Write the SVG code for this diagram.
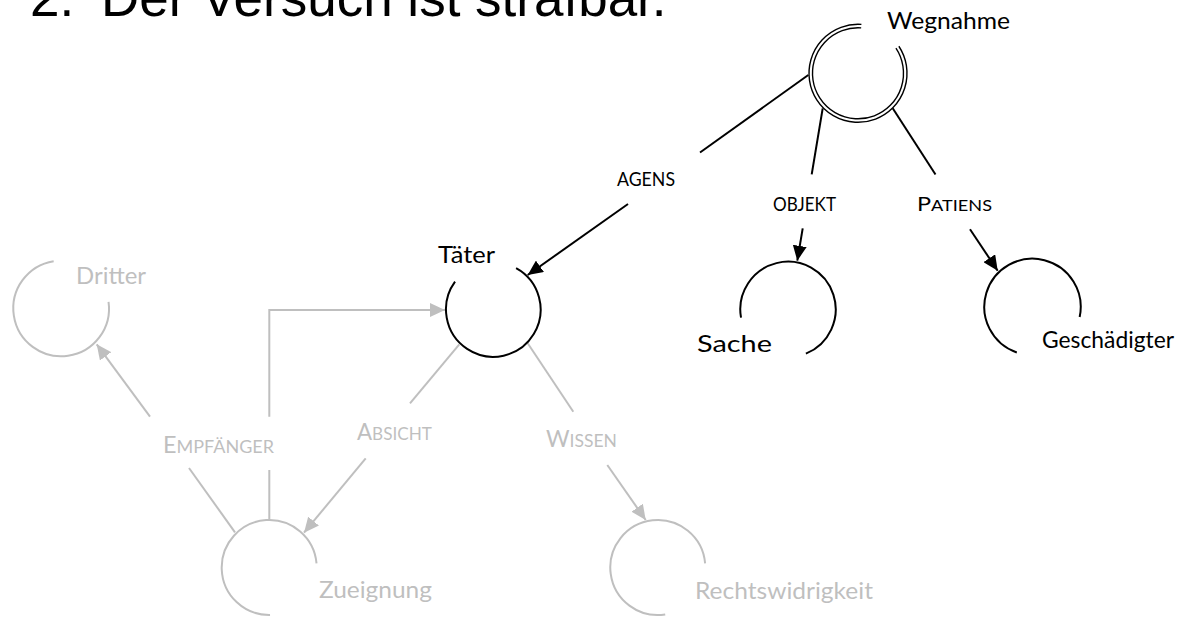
<svg xmlns="http://www.w3.org/2000/svg" width="1186" height="617" viewBox="0 0 1186 617">
<defs>
<style>
.bg{fill:#ffffff}
.arcB{fill:none;stroke:#000000;stroke-width:2}
.arcD{fill:none;stroke:#000000;stroke-width:1.4}
.arcG{fill:none;stroke:#bfbfbf;stroke-width:2}
.cB{fill:none;stroke:#000000;stroke-width:2}
.cG{fill:none;stroke:#bfbfbf;stroke-width:2}
.title{font-family:"Liberation Sans",Arial,sans-serif;font-size:53px;fill:#000000}
.lblB{font-family:Lato,"Open Sans",sans-serif;font-size:24px;fill:#000000}
.lblG{font-family:Lato,"Open Sans",sans-serif;font-size:24px;fill:#bfbfbf}
.relB{font-family:Lato,"Open Sans",sans-serif;font-size:18.6px;fill:#000000}
.relG{font-family:Lato,"Open Sans",sans-serif;font-size:23px;fill:#bfbfbf}
.scB{font-size:14.4px}
.scG{font-size:17.7px}
</style>
<marker id="arB" markerUnits="userSpaceOnUse" markerWidth="16" markerHeight="14" refX="15" refY="7" orient="auto">
<path d="M0,0 L15,7 L0,14 z" fill="#000000"/>
</marker>
<marker id="arG" markerUnits="userSpaceOnUse" markerWidth="16" markerHeight="14" refX="15" refY="7" orient="auto">
<path d="M0,0 L15,7 L0,14 z" fill="#bfbfbf"/>
</marker>
</defs>
<rect class="bg" x="0" y="0" width="1186" height="617"/>

<g id="title">
<text class="title" x="30" y="16">2.</text>
<text class="title" x="101" y="16">Der Versuch ist strafbar.</text>
</g>

<g id="connectors">
<!-- AGENS -->
<line class="cB" x1="808.3" y1="75" x2="700" y2="152.5"/>
<line class="cB" x1="628" y1="204" x2="527.7" y2="275" marker-end="url(#arB)"/>
<!-- OBJEKT -->
<line class="cB" x1="822.7" y1="108.3" x2="811.7" y2="174.3"/>
<line class="cB" x1="802.7" y1="228.3" x2="797.3" y2="260.7" marker-end="url(#arB)"/>
<!-- PATIENS -->
<line class="cB" x1="892.7" y1="108.3" x2="935.5" y2="174.5"/>
<line class="cB" x1="970" y1="229.3" x2="997.7" y2="270.7" marker-end="url(#arB)"/>
<!-- ABSICHT -->
<line class="cG" x1="459.3" y1="344.3" x2="410" y2="403.3"/>
<line class="cG" x1="365.7" y1="458.3" x2="304" y2="532.7" marker-end="url(#arG)"/>
<!-- WISSEN -->
<line class="cG" x1="527.7" y1="343.3" x2="573.3" y2="411.7"/>
<line class="cG" x1="607.3" y1="465" x2="645.7" y2="520" marker-end="url(#arG)"/>
<!-- EMPFÄNGER to Dritter -->
<line class="cG" x1="235" y1="532.3" x2="189" y2="468"/>
<line class="cG" x1="150" y1="416.7" x2="96.7" y2="344.3" marker-end="url(#arG)"/>
<!-- EMPFÄNGER to Täter -->
<line class="cG" x1="269.3" y1="519" x2="269.3" y2="470"/>
<polyline class="cG" points="269.3,416.7 269.3,310 445,310" marker-end="url(#arG)"/>
</g>

<g id="labels">
<text class="relB" x="617" y="185.7" textLength="58" lengthAdjust="spacingAndGlyphs">AGENS</text>
<text class="relB" x="773" y="210.7" textLength="63" lengthAdjust="spacingAndGlyphs">OBJEKT</text>
<text class="relB" x="917" y="210.7" textLength="75" lengthAdjust="spacingAndGlyphs">P<tspan class="scB">ATIENS</tspan></text>
<text class="relG" x="163" y="452.7" textLength="111" lengthAdjust="spacingAndGlyphs">E<tspan class="scG">MPFÄNGER</tspan></text>
<text class="relG" x="357" y="440" textLength="75" lengthAdjust="spacingAndGlyphs">A<tspan class="scG">BSICHT</tspan></text>
<text class="relG" x="546" y="446.7" textLength="71" lengthAdjust="spacingAndGlyphs">W<tspan class="scG">ISSEN</tspan></text>
</g>

<g id="node-wegnahme">
<path class="arcD" d="M898.86,46.26 A49,49 0 1 1 861.42,24.42"/>
<path class="arcD" d="M895.94,48.19 A45.5,45.5 0 1 1 861.18,27.91"/>
<text class="lblB" x="887" y="29.3" textLength="123" lengthAdjust="spacingAndGlyphs">Wegnahme</text>
</g>

<g id="node-taeter">
<path class="arcB" d="M516.09,268.05 A47.3,47.3 0 1 1 455.03,281.7"/>
<text class="lblB" x="438" y="263.3" textLength="57" lengthAdjust="spacingAndGlyphs">Täter</text>
</g>

<g id="node-sache">
<path class="arcB" d="M741.02,317.68 A47.7,47.7 0 1 1 805.87,353.63"/>
<text class="lblB" x="697" y="351.7" textLength="75" lengthAdjust="spacingAndGlyphs">Sache</text>
</g>

<g id="node-geschaedigter">
<path class="arcB" d="M1016.81,352.47 A48.2,48.2 0 1 1 1079.65,316.92"/>
<text class="lblB" x="1042" y="348.3" textLength="132" lengthAdjust="spacingAndGlyphs">Geschädigter</text>
</g>

<g id="node-dritter">
<path class="arcG" d="M108.54,301.79 A47.85,47.85 0 1 1 53.67,261.19"/>
<text class="lblG" x="76" y="284.3" textLength="70" lengthAdjust="spacingAndGlyphs">Dritter</text>
</g>

<g id="node-zueignung">
<path class="arcG" d="M270.03,614.99 A47.5,47.5 0 1 1 316.52,563.36"/>
<text class="lblG" x="319" y="598" textLength="113" lengthAdjust="spacingAndGlyphs">Zueignung</text>
</g>

<g id="node-rechtswidrigkeit">
<path class="arcG" d="M665.23,614.42 A47.5,47.5 0 1 1 705.12,563.36"/>
<text class="lblG" x="695" y="599" textLength="178" lengthAdjust="spacingAndGlyphs">Rechtswidrigkeit</text>
</g>
</svg>
